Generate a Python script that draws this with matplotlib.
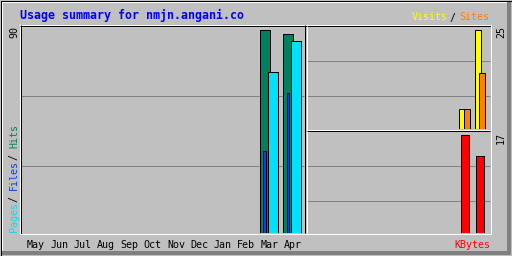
import matplotlib
matplotlib.use('Agg')
import matplotlib.pyplot as plt
from matplotlib import transforms

# Webalizer style yearly usage summary
months = ['May', 'Jun', 'Jul', 'Aug', 'Sep', 'Oct', 'Nov', 'Dec', 'Jan', 'Feb', 'Mar', 'Apr']
hits = [0, 0, 0, 0, 0, 0, 0, 0, 0, 0, 90, 88]
files = [0, 0, 0, 0, 0, 0, 0, 0, 0, 0, 36, 62]
pages = [0, 0, 0, 0, 0, 0, 0, 0, 0, 0, 71, 85]
visits = [0, 0, 0, 0, 0, 0, 0, 0, 0, 0, 5, 25]
sites = [0, 0, 0, 0, 0, 0, 0, 0, 0, 0, 5, 14]
kbytes = [0, 0, 0, 0, 0, 0, 0, 0, 0, 0, 17, 13.35]

title = 'Usage summary for nmjn.angani.co'

GREY = '#C0C0C0'
DKGREY = '#808080'
C_HITS = '#00805C'
C_FILES = '#0040FF'
C_PAGES = '#00E0FF'
C_VISITS = '#FFFF00'
C_SITES = '#FF8000'
C_KBYTES = '#FF0000'
MONO = 'DejaVu Sans Mono'
FS = 7.18      # 6 px per char
FS_T = 8.37    # 7 px per char
LW = 0.72      # one pixel

W, H = 512, 256
fig = plt.figure(figsize=(W / 100, H / 100), dpi=100)
fig.patch.set_facecolor(GREY)


def px_axes(x0, y0, x1, y1, z):
    ax = fig.add_axes([x0 / W, 1 - y1 / H, (x1 - x0) / W, (y1 - y0) / H])
    ax.set_zorder(z)
    return ax


def pixel_frame(z):
    ax = px_axes(0, 0, W, H, z)
    ax.set_xlim(0, W)
    ax.set_ylim(H, 0)
    ax.axis('off')
    ax.patch.set_alpha(0)
    return ax


def hline(ax, y, x0, x1, color):
    ax.plot([x0, x1 + 1], [y + 0.5, y + 0.5], color=color, lw=LW, solid_capstyle='butt')


def vline(ax, x, y0, y1, color):
    ax.plot([x + 0.5, x + 0.5], [y0, y1 + 1], color=color, lw=LW, solid_capstyle='butt')


bg = pixel_frame(0)
fg = pixel_frame(3)

# grid lines behind the bars
for y in (95, 165):
    hline(bg, y, 21, 303, DKGREY)
for y in (60, 95):
    hline(bg, y, 307, 489, DKGREY)
for y in (165, 200):
    hline(bg, y, 307, 489, DKGREY)


def bars(ax, values, offset, width, color):
    xs = [i + offset for i, v in enumerate(values) if v > 0]
    vs = [v for v in values if v > 0]
    ax.bar(xs, vs, width=width, align='edge', color=color,
           edgecolor='black', linewidth=LW)


def clean(ax):
    ax.patch.set_alpha(0)
    for s in ax.spines.values():
        s.set_visible(False)
    ax.set_xticks([])
    ax.set_yticks([])


# hits / files / pages
ax1 = px_axes(20.5, 25.5, 304.5, 232.5, 1)
clean(ax1)
ax1.set_xlim(-0.2785, 11.889)
ax1.set_ylim(0, max(hits) * 207 / 203)
bars(ax1, hits, -0.03, 0.446, C_HITS)
bars(ax1, files, 0.13, 0.116, C_FILES)
bars(ax1, pages, 0.31, 0.446, C_PAGES)

# visits / sites
ax2 = px_axes(306.5, 25.5, 490.5, 128.5, 1)
clean(ax2)
ax2.set_xlim(0, 12.03)
ax2.set_ylim(0, max(visits) * 103 / 99)
bars(ax2, visits, 0.0, 0.418, C_VISITS)
bars(ax2, sites, 0.285, 0.39, C_SITES)

# kbytes
ax3 = px_axes(306.5, 130.5, 490.5, 232.5, 1)
clean(ax3)
ax3.set_xlim(0, 12.03)
ax3.set_ylim(0, max(kbytes) * 102 / 98)
bars(ax3, kbytes, 0.075, 0.55, C_KBYTES)

# outer border and bevel
fg.add_patch(plt.Rectangle((507, 1), 4, 254, color=DKGREY, lw=0))
fg.add_patch(plt.Rectangle((1, 251), 510, 4, color=DKGREY, lw=0))
fg.add_patch(plt.Rectangle((1, 1), 506, 2, color='white', lw=0))
fg.add_patch(plt.Rectangle((1, 1), 2, 250, color='white', lw=0))
fg.add_patch(plt.Rectangle((0.5, 0.5), 511, 255, fill=False, ec='black', lw=LW))

# panel frames
hline(fg, 24, 19, 490, 'white')
vline(fg, 19, 24, 233, 'white')
hline(fg, 25, 20, 490, 'black')
vline(fg, 20, 25, 233, 'black')
hline(fg, 233, 20, 490, 'white')
vline(fg, 490, 25, 233, 'white')
vline(fg, 304, 25, 232, 'black')
vline(fg, 306, 26, 232, 'white')
hline(fg, 129, 307, 489, 'white')
hline(fg, 130, 307, 489, 'black')

# title
fg.text(20, 19, title, color='#0000FF', family=MONO, weight='bold',
        fontsize=FS_T, ha='left', va='baseline')

# month labels
tr = transforms.blended_transform_factory(ax1.transData, fg.transData)
for i, m in enumerate(months):
    fg.text(i, 247.5, m, transform=tr, family=MONO, fontsize=FS,
            color='black', ha='left', va='baseline')

# vertical legend on the left
rot = dict(rotation=90, rotation_mode='anchor', ha='left', va='baseline',
           family=MONO, fontsize=FS)
legend_left = [('Pages', C_PAGES, 231.5), ('/', 'black', 201.5),
               ('Files', C_FILES, 190.5), ('/', 'black', 159.5),
               ('Hits', C_HITS, 148.5)]
for txt, col, y in legend_left:
    fg.text(17, y, txt, color=col, **rot)

# maximum values
fg.text(17, 38.5, str(max(hits)), color='black', **rot)
fg.text(504, 38.5, str(max(visits)), color='black', **rot)
fg.text(504, 143.5, str(round(max(kbytes))), color='black', **rot)

# legends on the right
fg.text(412, 20.5, 'Visits', color=C_VISITS, family=MONO, fontsize=FS, ha='left', va='baseline')
fg.text(449.5, 20.5, '/', color='black', family=MONO, fontsize=FS, ha='left', va='baseline')
fg.text(459.5, 20.5, 'Sites', color=C_SITES, family=MONO, fontsize=FS, ha='left', va='baseline')
fg.text(454, 247.5, 'KBytes', color=C_KBYTES, family=MONO, fontsize=FS, ha='left', va='baseline')

fig.savefig('out.png', dpi=100, facecolor=GREY)
